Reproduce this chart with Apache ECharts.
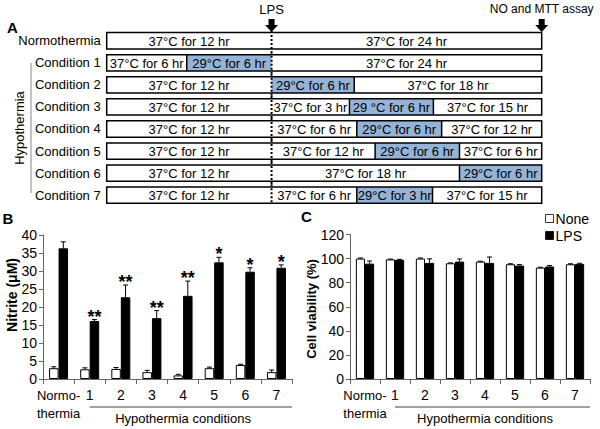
<!DOCTYPE html>
<html><head><meta charset="utf-8">
<script src="https://cdn.jsdelivr.net/npm/echarts@6/dist/echarts.min.js"></script>
<style>html,body{margin:0;padding:0;background:#fff}#c{width:600px;height:429px}</style>
</head><body><div id="c"></div>
<script>
const FONT = '"Liberation Sans", Arial, sans-serif';
// ---- Panel A: schematic timeline (x in schematic % of box width) ----
const rowLabels = ['Normothermia','Condition 1','Condition 2','Condition 3','Condition 4','Condition 5','Condition 6','Condition 7'];
const lpsPos = 37.9;
const assayPos = 100;
// [row, start, end, cold(1=29°C)]
const segments = [
  [0,0,37.9,0],[0,37.9,100,0],
  [1,0,18.4,0],[1,18.4,37.9,1],[1,37.9,100,0],
  [2,0,37.9,0],[2,37.9,56.9,1],[2,56.9,100,0],
  [3,0,37.9,0],[3,37.9,55.8,0],[3,55.8,75.1,1],[3,75.1,100,0],
  [4,0,37.9,0],[4,37.9,57.5,0],[4,57.5,77.0,1],[4,77.0,100,0],
  [5,0,37.9,0],[5,37.9,61.7,0],[5,61.7,81.1,1],[5,81.1,100,0],
  [6,0,37.9,0],[6,37.9,81.1,0],[6,81.1,100,1],
  [7,0,37.9,0],[7,37.9,57.5,0],[7,57.5,74.9,1],[7,74.9,100,0]
];
const segTexts = [
  '37°C for 12 hr','37°C for 24 hr',
  '37°C for 6 hr','29°C for 6 hr','37°C for 24 hr',
  '37°C for 12 hr','29°C for 6 hr','37°C for 18 hr',
  '37°C for 12 hr','37°C for 3 hr','29 °C for 6 hr','37°C for 15 hr',
  '37°C for 12 hr','37°C for 6 hr','29°C for 6 hr','37°C for 12 hr',
  '37°C for 12 hr','37°C for 12 hr','29°C for 6 hr','37°C for 6 hr',
  '37°C for 12 hr','37°C for 18 hr','29°C for 6 hr',
  '37°C for 12 hr','37°C for 6 hr','29°C for 3 hr','37°C for 15 hr'
];
// ---- Panels B and C ----
const categories = ['Normo-\nthermia','1','2','3','4','5','6','7'];
const nitriteNone = [3.0,2.7,2.8,1.9,1.0,3.0,3.9,1.9];
const nitriteNoneErr = [0.4,0.4,0.4,0.5,0.3,0.3,0.2,0.6];
const nitriteLPS = [36.3,16.1,22.7,16.9,23.1,32.4,29.8,30.9];
const nitriteLPSErr = [1.8,0.4,3.4,2.1,4.1,1.4,1.1,0.8];
const stars = ['','**','**','**','**','*','*','*'];
const viabNone = [100,99.3,100,96.1,97.5,95.3,92.5,95.3];
const viabNoneErr = [0.5,0.3,0.5,0.3,0.3,0.4,0.3,0.4];
const viabLPS = [95.8,99.0,96.4,97.5,96.4,94.2,93.4,95.6];
const viabLPSErr = [2.2,0.3,3.4,2.2,4.9,0.8,0.8,0.5];

const COLD = '#95B3D7';
const BARFRAC = 0.305;

const chart = echarts.init(document.getElementById('c'), null, {renderer:'svg', width:600, height:429});

function segRender(params, api){
  const row = api.value(0), s = api.value(1), e = api.value(2), cold = api.value(3);
  const p0 = api.coord([s, row]), p1 = api.coord([e, row]);
  const h = api.size([0,1])[1]*0.74;
  const ch = [{type:'rect', shape:{x:p0[0], y:p0[1]-h/2, width:p1[0]-p0[0], height:h}, style:{fill: cold ? COLD : '#fff'}}];
  if (s > 0 && Math.abs(s - lpsPos) > 0.01) {
    ch.push({type:'line', shape:{x1:p0[0], y1:p0[1]-h/2, x2:p0[0], y2:p0[1]+h/2}, style:{stroke:'#000', lineWidth:1.5}});
  }
  ch.push({type:'text', style:{text: segTexts[params.dataIndex], x:(p0[0]+p1[0])/2, y:p0[1]+0.5, align:'center', verticalAlign:'middle', font:'13px ' + FONT, fill:'#000'}});
  return {type:'group', children: ch};
}
function outlineRender(params, api){
  const row = api.value(2);
  const p0 = api.coord([api.value(0), row]), p1 = api.coord([api.value(1), row]);
  const band = api.size([0,1])[1];
  const h = band*0.74;
  const pl = api.coord([lpsPos, row]);
  const yTop = row === 0 ? 31 : p0[1]-band/2;
  const yBot = row === rowLabels.length-1 ? p0[1]+h/2 : p0[1]+band/2;
  return {type:'group', children:[
    {type:'rect', shape:{x:p0[0], y:p0[1]-h/2, width:p1[0]-p0[0], height:h}, style:{fill:'none', stroke:'#000', lineWidth:1.5}},
    {type:'line', shape:{x1:pl[0], y1:yTop, x2:pl[0], y2:yBot}, style:{stroke:'#000', lineWidth:2, lineDash:[2,2]}}
  ]};
}
function errRender(side, withStars){
  return function(params, api){
    const i = api.value(0), v = api.value(1), e = api.value(2);
    const bw = api.size([1,0])[0]*BARFRAC;
    const b = api.coord([i, v]), t = api.coord([i, v+e]);
    const x = b[0] + side*bw/2;
    const ch = [
      {type:'line', shape:{x1:x, y1:b[1], x2:x, y2:t[1]}, style:{stroke:'#000', lineWidth:1}},
      {type:'line', shape:{x1:x-2.5, y1:t[1], x2:x+2.5, y2:t[1]}, style:{stroke:'#000', lineWidth:1}}
    ];
    if (withStars && stars[params.dataIndex]) {
      ch.push({type:'text', style:{text: stars[params.dataIndex], x:x, y:t[1]-3, align:'center', verticalAlign:'middle', font:'bold 18px ' + FONT, fill:'#000'}});
    }
    return {type:'group', children: ch};
  };
}
const catAxis = (gi) => ({
  type:'category', gridIndex:gi, data:categories,
  axisLine:{lineStyle:{color:'#666', width:1}},
  axisTick:{show:true, length:5, interval:0, lineStyle:{color:'#666'}},
  axisLabel:{interval:0, color:'#000', fontFamily:FONT, fontSize:14, margin:7, lineHeight:18,
    formatter:(v)=> v.indexOf('\n')>=0 ? '{n|Normo-}\n{n|thermia}' : v,
    rich:{n:{fontSize:13, lineHeight:18, fontFamily:FONT, color:'#000'}}}
});
const valAxis = (gi, max, interval) => ({
  type:'value', gridIndex:gi, min:0, max:max, interval:interval,
  axisLine:{show:true, lineStyle:{color:'#666', width:1}},
  axisTick:{show:true, length:4, lineStyle:{color:'#666'}},
  splitLine:{show:false},
  axisLabel:{color:'#000', fontFamily:FONT, fontSize:14, margin:6}
});
const toErr = (vals, errs) => vals.map((v,i)=>[i, v, errs[i]]);

chart.setOption({
  animation:false,
  textStyle:{fontFamily:FONT},
  legend:{data:['None','LPS'], icon:'rect', orient:'vertical', right:6, top:206, itemWidth:8, itemHeight:8, itemGap:2,
    itemStyle:{borderWidth:0.8},
    textStyle:{fontSize:14, color:'#000', fontFamily:FONT, lineHeight:15, padding:[0,0,0,-3]}, selectedMode:false},
  grid:[
    {left:106.7, top:29.7, width:435, height:176.5},
    {left:43, top:235, width:249, height:144},
    {left:350, top:234.5, width:240, height:144.5}
  ],
  xAxis:[
    {type:'value', gridIndex:0, min:0, max:100, show:false},
    catAxis(1), catAxis(2)
  ],
  yAxis:[
    {type:'category', gridIndex:0, data:rowLabels, inverse:true, axisLine:{show:false}, axisTick:{show:false}, splitLine:{show:false},
      axisLabel:{interval:0, color:'#000', fontFamily:FONT, fontSize:13, margin:6}},
    valAxis(1, 40, 5), valAxis(2, 120, 20)
  ],
  series:[
    {type:'custom', xAxisIndex:0, yAxisIndex:0, data:segments, encode:{x:[1,2], y:0}, renderItem:segRender, z:2, silent:true},
    {type:'custom', xAxisIndex:0, yAxisIndex:0, data:rowLabels.map((_,i)=>[0,100,i]), encode:{x:[0,1], y:2}, renderItem:outlineRender, z:3, silent:true},
    {name:'None', type:'bar', xAxisIndex:1, yAxisIndex:1, data:nitriteNone, barWidth:(BARFRAC*100)+'%', barGap:'0%', itemStyle:{color:'#fff', borderColor:'#000', borderWidth:1}},
    {name:'LPS', type:'bar', xAxisIndex:1, yAxisIndex:1, data:nitriteLPS, barWidth:(BARFRAC*100)+'%', barGap:'0%', itemStyle:{color:'#000', borderColor:'#000', borderWidth:1}},
    {type:'custom', xAxisIndex:1, yAxisIndex:1, data:toErr(nitriteNone, nitriteNoneErr), encode:{x:0, y:[1,2]}, renderItem:errRender(-1,false), z:5, silent:true},
    {type:'custom', xAxisIndex:1, yAxisIndex:1, data:toErr(nitriteLPS, nitriteLPSErr), encode:{x:0, y:[1,2]}, renderItem:errRender(1,true), z:5, silent:true},
    {name:'None', type:'bar', xAxisIndex:2, yAxisIndex:2, data:viabNone, barWidth:(BARFRAC*100)+'%', barGap:'0%', itemStyle:{color:'#fff', borderColor:'#000', borderWidth:1}},
    {name:'LPS', type:'bar', xAxisIndex:2, yAxisIndex:2, data:viabLPS, barWidth:(BARFRAC*100)+'%', barGap:'0%', itemStyle:{color:'#000', borderColor:'#000', borderWidth:1}},
    {type:'custom', xAxisIndex:2, yAxisIndex:2, data:toErr(viabNone, viabNoneErr), encode:{x:0, y:[1,2]}, renderItem:errRender(-1,false), z:5, silent:true},
    {type:'custom', xAxisIndex:2, yAxisIndex:2, data:toErr(viabLPS, viabLPSErr), encode:{x:0, y:[1,2]}, renderItem:errRender(1,false), z:5, silent:true}
  ]
});

// ---- annotations positioned from the axes ----
function arrow(cx){
  return {type:'polygon', shape:{points:[[cx-3,19],[cx+3,19],[cx+3,25],[cx+6.5,25],[cx,32],[cx-6.5,25],[cx-3,25]]}, style:{fill:'#000'}};
}
const xl = chart.convertToPixel({xAxisIndex:0}, lpsPos);
const xa = chart.convertToPixel({xAxisIndex:0}, assayPos);
function condLine(axisIdx){
  const c1 = chart.convertToPixel({xAxisIndex:axisIdx}, 1);
  const c2 = chart.convertToPixel({xAxisIndex:axisIdx}, 2);
  const c4 = chart.convertToPixel({xAxisIndex:axisIdx}, 4);
  const c7 = chart.convertToPixel({xAxisIndex:axisIdx}, 7);
  const end = c7 + (c2-c1)/2;
  return [
    {type:'line', shape:{x1:c1, y1:407, x2:end, y2:407}, style:{stroke:'#444', lineWidth:1}},
    {type:'text', style:{text:'Hypothermia conditions', x:c4, y:418, align:'center', verticalAlign:'middle', font:'13px ' + FONT, fill:'#000'}}
  ];
}
chart.setOption({graphic:[
  {type:'text', style:{text:'A', x:7, y:27.5, verticalAlign:'middle', font:'bold 15px ' + FONT, fill:'#000'}},
  {type:'text', style:{text:'B', x:2.5, y:218, verticalAlign:'middle', font:'bold 15px ' + FONT, fill:'#000'}},
  {type:'text', style:{text:'C', x:301, y:216.5, verticalAlign:'middle', font:'bold 15px ' + FONT, fill:'#000'}},
  {type:'text', style:{text:'LPS', x:xl, y:9, align:'center', verticalAlign:'middle', font:'13px ' + FONT, fill:'#000'}},
  arrow(xl),
  {type:'text', style:{text:'NO and MTT assay', x:xa, y:8.5, align:'center', verticalAlign:'middle', font:'12px ' + FONT, fill:'#000'}},
  arrow(xa),
  {type:'text', x:19, y:128, rotation:Math.PI/2, style:{text:'Hypothermia', x:0, y:0, align:'center', verticalAlign:'middle', font:'13px ' + FONT, fill:'#000'}},
  {type:'line', shape:{x1:31, y1:63, x2:31, y2:193}, style:{stroke:'#888', lineWidth:1}},
  {type:'text', x:12, y:295, rotation:Math.PI/2, style:{text:'Nitrite (μM)', x:0, y:0, align:'center', verticalAlign:'middle', font:'bold 14px ' + FONT, fill:'#000'}},
  {type:'text', x:311, y:309, rotation:Math.PI/2, style:{text:'Cell viability (%)', x:0, y:0, align:'center', verticalAlign:'middle', font:'bold 13px ' + FONT, fill:'#000'}}
].concat(condLine(1), condLine(2))});
</script>
</body></html>
